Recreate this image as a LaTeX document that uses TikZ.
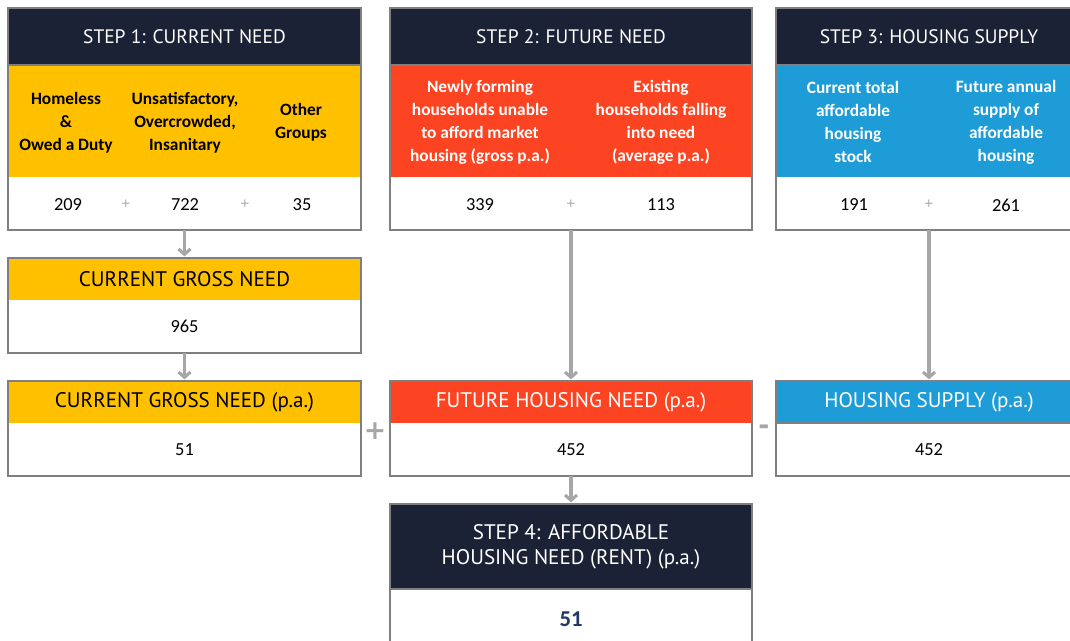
\documentclass[tikz,border=0pt]{standalone}
\usepackage{fontspec}
\setmainfont{Carlito}
\newfontfamily\hfont{PT Sans}
\newfontfamily\sgnfont{DejaVu Sans}
\usetikzlibrary{arrows.meta}
\definecolor{navy}{HTML}{1C2235}
\definecolor{gold}{HTML}{FFC000}
\definecolor{redo}{HTML}{FD4422}
\definecolor{skyb}{HTML}{1E9CD7}
\definecolor{bord}{HTML}{7F7F7F}
\definecolor{agray}{HTML}{A6A6A6}
\definecolor{numblue}{HTML}{1F3864}
\begin{document}
\begin{tikzpicture}[x=0.75pt,y=-0.75pt,
  region/.style={rectangle,inner sep=0pt,outer sep=0pt,anchor=north west,align=center},
  hdr/.style={region,fill=navy,text=white,font=\hfont\fontsize{14.6}{18.75}\selectfont,minimum height=42.75pt},
  sub/.style={region,font=\hfont\fontsize{15.8}{18}\selectfont,minimum height=31.5pt},
  colarea/.style={region,minimum height=84pt},
  wbox/.style={region,fill=white,font=\fontsize{13.8}{16}\selectfont,minimum height=39.75pt},
  body/.style={align=center,inner sep=0pt,font=\bfseries\fontsize{13}{17.25}\selectfont},
  num/.style={inner sep=0pt,font=\fontsize{13.8}{16}\selectfont},
  smallplus/.style={inner sep=0pt,text=agray,font=\sgnfont\fontsize{9}{10}\selectfont},
  bigsign/.style={inner sep=0pt,text=agray,font=\sgnfont\bfseries\fontsize{20}{22}\selectfont},
  bline/.style={draw=bord,line width=1.1pt},
  arr/.style={draw=agray,line width=2.3pt,-{Straight Barb[length=4pt,width=9pt]},shorten >=1.2pt}
]
\clip (0,0) rectangle (1070,641);
\fill[white] (0,0) rectangle (1070,641);

% ---------- Box 1 ----------
\node[hdr,minimum width=264.75pt] (h1) at (8,8) {STEP 1: CURRENT NEED};
\node[colarea,fill=gold,minimum width=264.75pt] (c1) at (8,65) {};
\node[wbox,minimum width=264.75pt,minimum height=39.75pt] (w1) at (8,177) {};
\draw[bline] (h1.north west) rectangle (w1.south east);
\draw[bline] (h1.south west) -- (h1.south east);
\node[body] (t11) at (66,123) {Homeless\\\&\\Owed a Duty};
\node[body] (t12) at (185,123) {Unsatisfactory,\\Overcrowded,\\Insanitary};
\node[body] (t13) at (301,122) {Other\\Groups};
\node[num] (n11) at (68,205) {209};
\node[smallplus] (p11) at (126,204) {+};
\node[num] (n12) at (185,205) {722};
\node[smallplus] (p12) at (245,204) {+};
\node[num] (n13) at (302,205) {35};

% ---------- Box 2 ----------
\node[hdr,minimum width=271.5pt] (h2) at (390,8) {STEP 2: FUTURE NEED};
\node[colarea,fill=redo,minimum width=271.5pt] (c2) at (390,65) {};
\node[wbox,minimum width=271.5pt] (w2) at (390,177) {};
\draw[bline] (h2.north west) rectangle (w2.south east);
\draw[bline] (h2.south west) -- (h2.south east);
\node[body,text=white] (t21) at (480,122) {Newly forming\\households unable\\to afford market\\housing (gross p.a.)};
\node[body,text=white] (t22) at (661,122) {Existing\\households falling\\into need\\(average p.a.)};
\node[num] (n21) at (480,205) {339};
\node[smallplus] (p21) at (571,204) {+};
\node[num] (n22) at (661,205) {113};

% ---------- Box 3 ----------
\node[hdr,minimum width=229.5pt] (h3) at (776,8) {STEP 3: HOUSING SUPPLY};
\node[colarea,fill=skyb,minimum width=229.5pt] (c3) at (776,65) {};
\node[wbox,minimum width=229.5pt] (w3) at (776,177) {};
\draw[bline] (h3.north west) rectangle (w3.south east);
\draw[bline] (h3.south west) -- (h3.south east);
\node[body,text=white] (t31) at (853,122) {Current total\\affordable\\housing\\stock};
\node[body,text=white] (t32) at (1006,122) {Future annual\\supply of\\affordable\\housing};
\node[num] (n31) at (854,205) {191};
\node[smallplus] (p31) at (929,204) {+};
\node[num] (n32) at (1006,205) {261};

% ---------- Current gross need ----------
\node[sub,fill=gold,text=black,minimum width=264.75pt] (cgh) at (8,258) {CURRENT GROSS NEED};
\node[wbox,minimum width=264.75pt] (cgw) at (8,300) {965};
\draw[bline] (cgh.north west) rectangle (cgw.south east);

% ---------- Row p.a. ----------
\node[sub,fill=gold,text=black,minimum width=264.75pt] (pah) at (8,381) {CURRENT GROSS NEED (p.a.)};
\node[wbox,minimum width=264.75pt] (paw) at (8,423) {51};
\draw[bline] (pah.north west) rectangle (paw.south east);

\node[sub,fill=redo,text=white,minimum width=271.5pt] (fnh) at (390,381) {FUTURE HOUSING NEED (p.a.)};
\node[wbox,minimum width=271.5pt] (fnw) at (390,423) {452};
\draw[bline] (fnh.north west) rectangle (fnw.south east);

\node[sub,fill=skyb,text=white,minimum width=229.5pt] (hsh) at (776,381) {HOUSING SUPPLY (p.a.)};
\node[wbox,minimum width=229.5pt] (hsw) at (776,423) {452};
\draw[bline] (hsh.north west) rectangle (hsw.south east);
\draw[bline] (hsh.south west) -- (hsh.south east);

\node[bigsign] (plus) at (375,431) {+};
\node[bigsign] (minus) at (764,430) {-};

% ---------- Step 4 ----------
\node[hdr,font=\hfont\fontsize{15.8}{18.75}\selectfont,minimum width=271.5pt,minimum height=63.75pt] (s4h) at (390,504) {STEP 4: AFFORDABLE\\HOUSING NEED (RENT) (p.a.)};
\node[wbox,minimum width=271.5pt,minimum height=45pt] (s4w) at (390,589) {};
\node[inner sep=0pt,text=numblue,font=\bfseries\fontsize{17}{20}\selectfont] (res) at (571,619) {51};
\draw[bline] (s4h.north west) rectangle (s4w.south east);
\draw[bline] (s4h.south west) -- (s4h.south east);

% ---------- connectors ----------
\draw[arr] (w1.south) -- (cgh.north);
\draw[arr] (cgw.south) -- (pah.north);
\draw[arr] (w2.south) -- (fnh.north);
\draw[arr] (w3.south) -- (hsh.north);
\draw[arr] (fnw.south) -- (s4h.north);
\end{tikzpicture}
\end{document}
